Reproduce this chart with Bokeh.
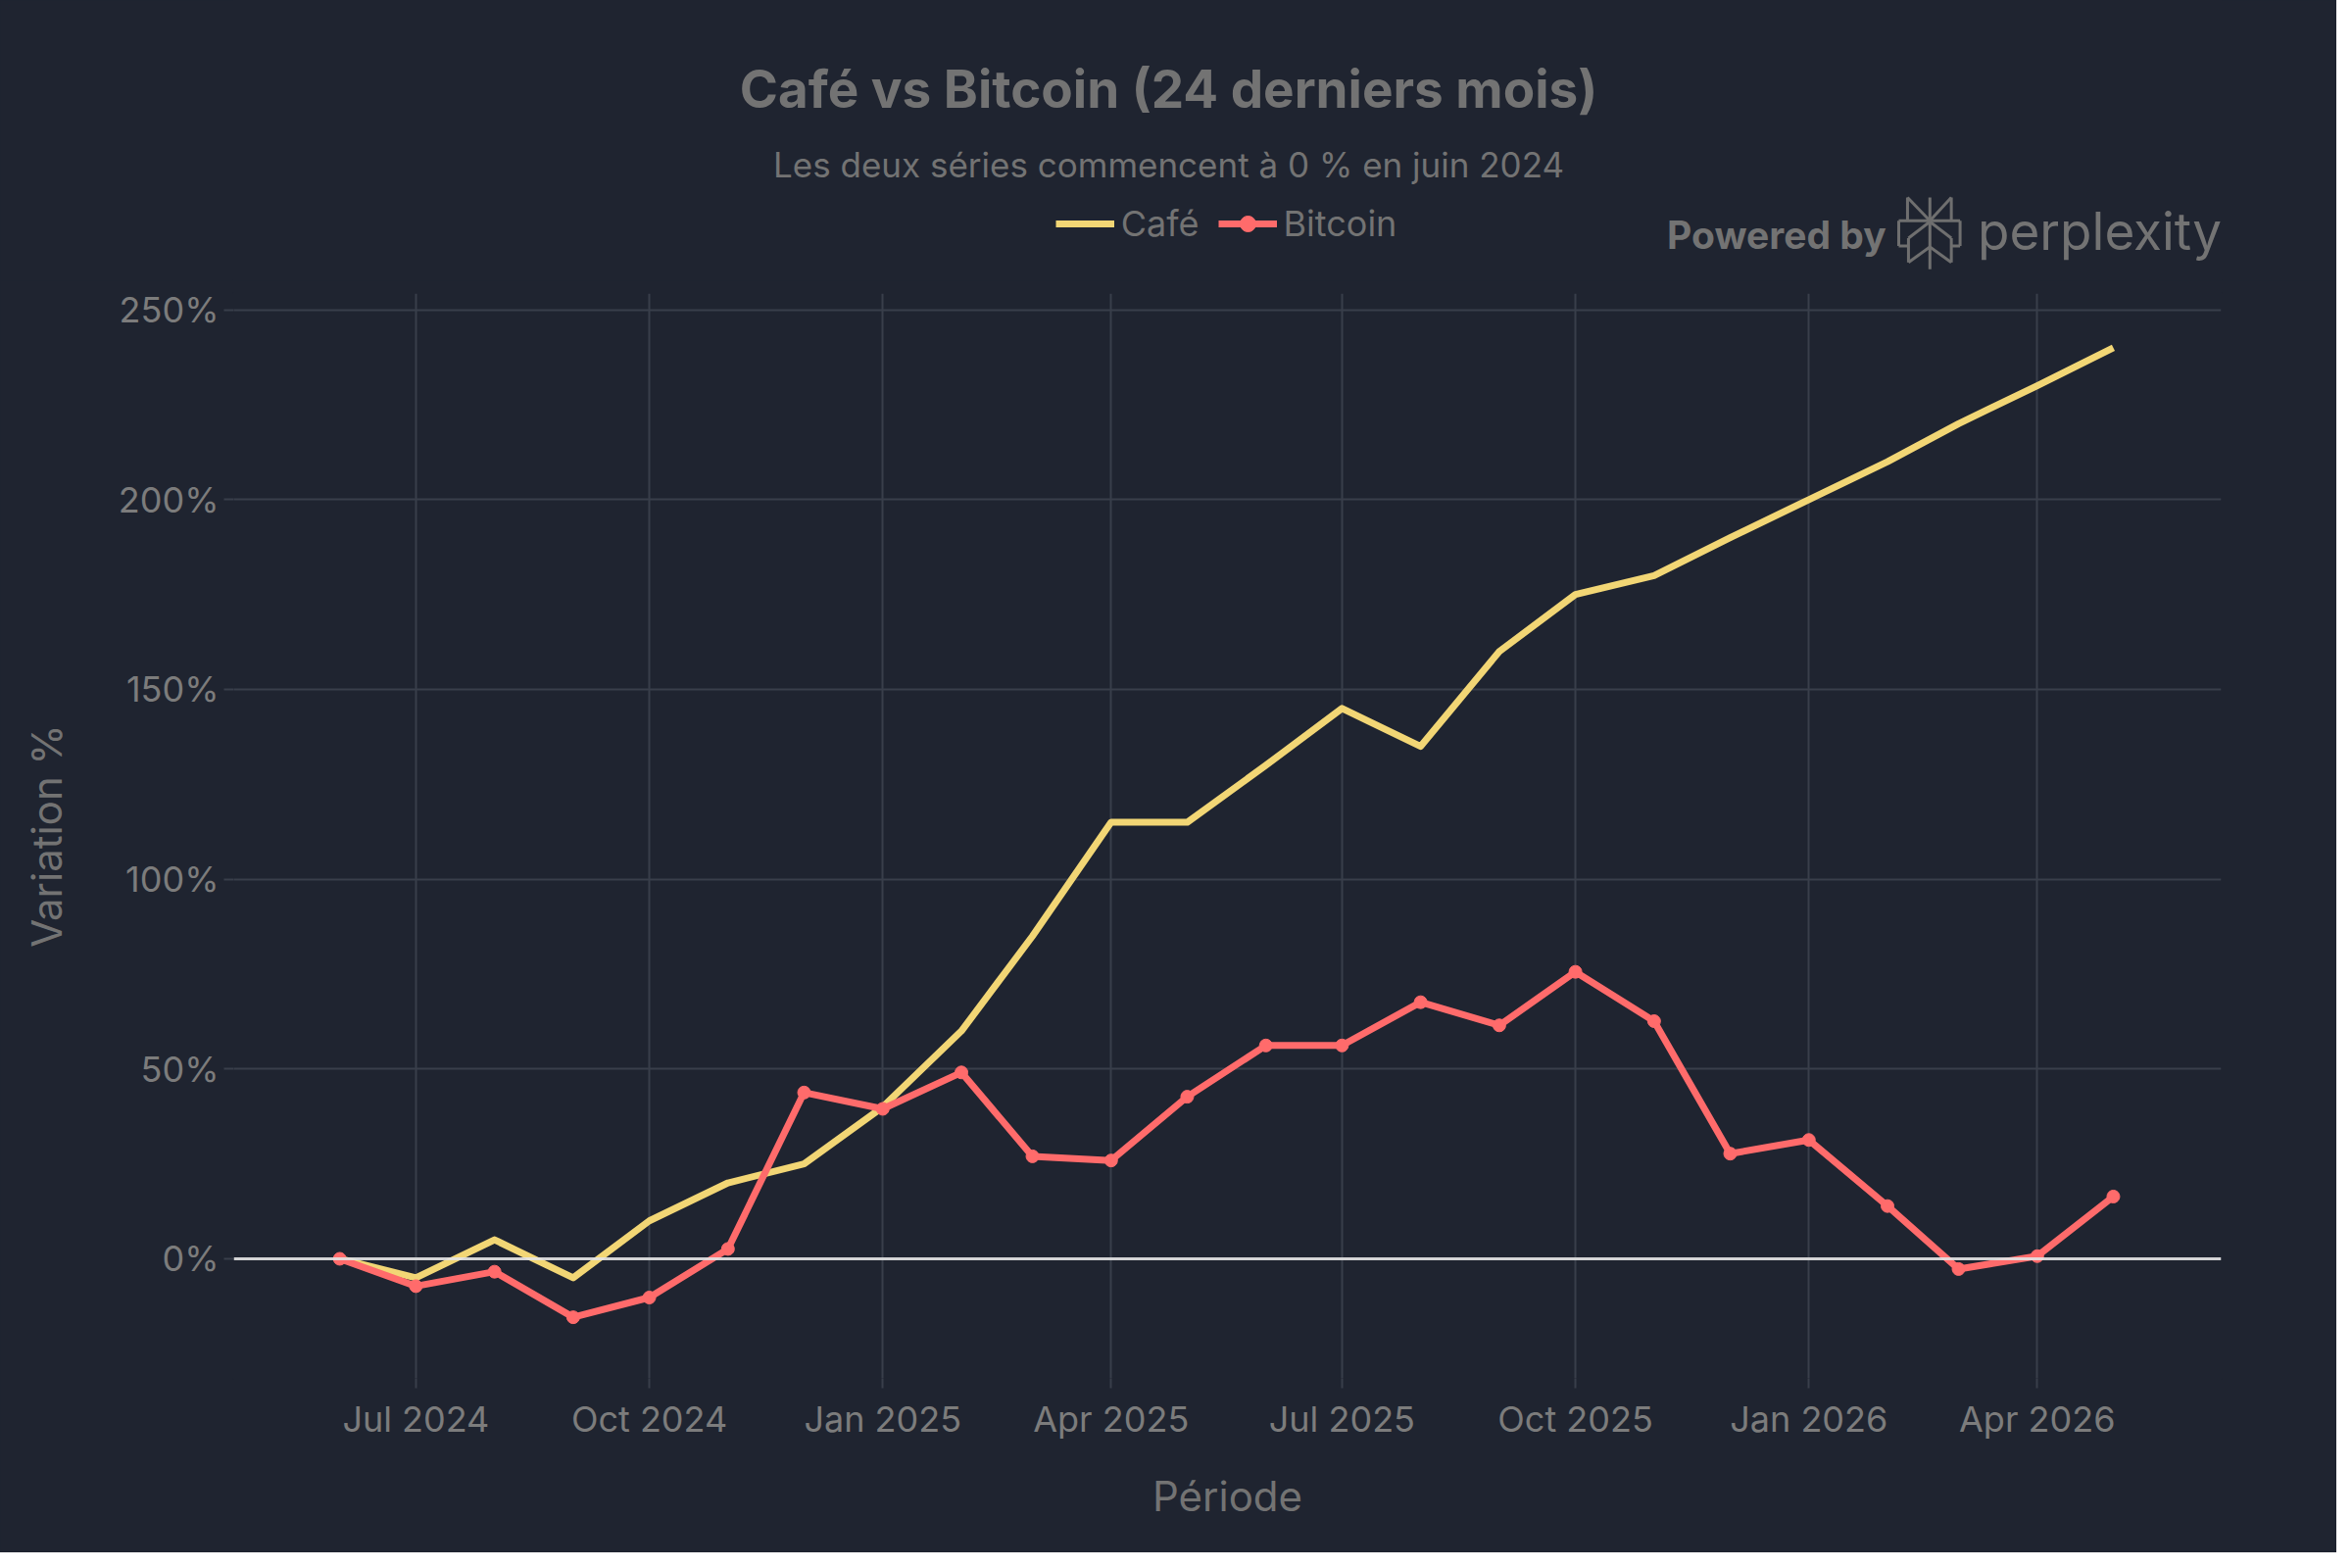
import pandas as pd
from bokeh.plotting import figure
from bokeh.layouts import column
from bokeh.models import (Range1d, FixedTicker, DatetimeTickFormatter, Span, Label,
                          Legend, LegendItem, ColumnDataSource)
from bokeh.embed import file_html
from bokeh.resources import INLINE

# ---------------- data ----------------
months = ["2024-06-01", "2024-07-01", "2024-08-01", "2024-09-01", "2024-10-01", "2024-11-01",
          "2024-12-01", "2025-01-01", "2025-02-01", "2025-03-01", "2025-04-01", "2025-05-01",
          "2025-06-01", "2025-07-01", "2025-08-01", "2025-09-01", "2025-10-01", "2025-11-01",
          "2025-12-01", "2026-01-01", "2026-02-01", "2026-03-01", "2026-04-01", "2026-05-01"]
cafe = [0, -5, 5, -5, 10, 20, 25, 40, 60, 85, 115, 115,
        130, 145, 135, 160, 175, 180, 190, 200, 210, 220, 230, 240]
bitcoin = [0, -7.2, -3.4, -15.4, -10.2, 2.6, 43.8, 39.5, 49.1, 27.0, 25.9, 42.7,
           56.2, 56.2, 67.6, 61.5, 75.6, 62.6, 27.7, 31.3, 13.9, -2.7, 0.7, 16.4]
series_names = ["Café", "Bitcoin"]
x_tick_dates = ["2024-07-01", "2024-10-01", "2025-01-01", "2025-04-01",
                "2025-07-01", "2025-10-01", "2026-01-01", "2026-04-01"]
x_tick_labels = ["Jul 2024", "Oct 2024", "Jan 2025", "Apr 2025",
                 "Jul 2025", "Oct 2025", "Jan 2026", "Apr 2026"]
y_ticks = [0, 50, 100, 150, 200, 250]
y_tick_labels = ["0%", "50%", "100%", "150%", "200%", "250%"]

title_text = "Café vs Bitcoin (24 derniers mois)"
subtitle_text = "Les deux séries commencent à 0 % en juin 2024"
brand_a = "Powered by"
brand_b = "perplexity"

# ---------------- style ----------------
BG = "#1f2430"
GRID = "#393e4a"
TXT = "#737373"
TICK = "#7c7c7c"
CAFE_C = "#f2d675"
BTC_C = "#ff6b6b"
FONT = "Inter"

W, H = 2384, 1584
SX, SY = W / 2400, H / 1600     # reference-pixel -> figure-pixel scale
HH = 286                        # header height
MH = H - HH                     # main figure height

left_b = round(240 * SX)
right_b = W - round(2281 * SX)
top_b = round(302 * SY) - HH
bot_b = MH - (round(1420 * SY) - HH)

dates = pd.to_datetime(months)
src = ColumnDataSource(dict(date=dates, cafe=cafe, bitcoin=bitcoin))

# ---------------- header (title, subtitle, legend, brand) ----------------
# header frame shares the main frame's left/right edges; data units = pixels
hdr = figure(width=W, height=HH, output_backend="svg", toolbar_location=None,
             x_range=Range1d(left_b, W - right_b), y_range=Range1d(0, HH),
             x_axis_location=None, y_axis_location=None,
             min_border_left=left_b, min_border_right=right_b,
             min_border_top=0, min_border_bottom=0,
             background_fill_color=BG, border_fill_color=BG,
             outline_line_color=BG, outline_line_width=3)
hdr.grid.visible = False


def hx(x):
    return x * SX


def hy(y):
    return HH - y * SY


def lab(text, x, y, size, style="normal", align="center", color=TXT):
    hdr.add_layout(Label(x=hx(x), y=hy(y), text=text, text_font=FONT,
                         text_font_size=f"{size}px", text_font_style=style,
                         text_align=align, text_baseline="middle", text_color=color))


lab(title_text, 1200, 91, 53, style="bold")
lab(subtitle_text, 1200, 169, 35)
lab(brand_a, 1712, 241, 39, style="bold", align="left")
lab(brand_b, 2031, 238, 53, align="left")

# perplexity icon (decoration, reference pixel space)
cx, T, B = 1982, 203, 277
segs = [((cx, T), (cx, B)),
        ((1959, T), (1959, 226)), ((2004, T), (2004, 226)),
        ((1959, T), (cx, 227)), ((2004, T), (cx, 227)),
        ((1950, 227), (2013, 227)),
        ((1950, 227), (1950, 253)), ((2013, 227), (2013, 253)),
        ((1950, 253), (1960, 253)), ((2013, 253), (2004, 253)),
        ((cx, 228), (1960, 245)), ((cx, 228), (2004, 245)),
        ((1960, 245), (1960, 270)), ((2004, 245), (2004, 270)),
        ((cx, 254), (1960, 270)), ((cx, 254), (2004, 270))]
hdr.segment(x0=[hx(a[0]) for a, b in segs], y0=[hy(a[1]) for a, b in segs],
            x1=[hx(b[0]) for a, b in segs], y1=[hy(b[1]) for a, b in segs],
            line_color="#6f6f6f", line_width=3)

# legend swatches: the real series, lying outside the header's pixel ranges
lg_cafe = hdr.line("date", "cafe", source=src, line_color=CAFE_C, line_width=7)
lg_btc = hdr.line("date", "bitcoin", source=src, line_color=BTC_C, line_width=7)
lg_btc_m = hdr.scatter("date", "bitcoin", source=src, size=13, fill_color=BTC_C,
                       line_color=BTC_C)
legend = Legend(items=[LegendItem(label=series_names[0], renderers=[lg_cafe]),
                       LegendItem(label=series_names[1], renderers=[lg_btc, lg_btc_m])],
                orientation="horizontal", location=(hx(1084) - left_b, HH - 253 * SY),
                background_fill_alpha=0, border_line_color=None, padding=0, margin=0,
                spacing=19, label_standoff=7, glyph_width=60, glyph_height=40,
                label_height=40, label_text_font=FONT, label_text_font_size="36px",
                label_text_color=TXT)
hdr.add_layout(legend)

# ---------------- main chart ----------------
p = figure(width=W, height=MH, x_axis_type="datetime", output_backend="svg",
           toolbar_location=None,
           x_range=Range1d(pd.Timestamp("2024-04-20 05:00"), pd.Timestamp("2026-06-12 12:00")),
           y_range=Range1d(-31.5, 254.3),
           min_border_left=left_b, min_border_right=right_b,
           min_border_top=top_b, min_border_bottom=bot_b,
           background_fill_color=BG, border_fill_color=BG,
           outline_line_color=BG, outline_line_width=3)

xt = [int(pd.Timestamp(d).value // 10**6) for d in x_tick_dates]
p.xaxis.ticker = FixedTicker(ticks=xt)
p.xaxis.formatter = DatetimeTickFormatter(months="%b %Y", days="%b %Y", years="%b %Y")
p.xaxis.major_label_overrides = {t: l for t, l in zip(xt, x_tick_labels)}
p.yaxis.ticker = FixedTicker(ticks=y_ticks)
p.yaxis.major_label_overrides = {t: l for t, l in zip(y_ticks, y_tick_labels)}

for ax in (p.xaxis[0], p.yaxis[0]):
    ax.axis_line_color = None
    ax.major_tick_line_color = GRID
    ax.major_tick_line_width = 2
    ax.major_tick_out = 10
    ax.major_tick_in = 0
    ax.minor_tick_line_color = None
    ax.major_label_text_font = FONT
    ax.major_label_text_font_size = "36px"
    ax.major_label_text_color = TICK
    ax.axis_label_text_font = FONT
    ax.axis_label_text_font_size = "42px"
    ax.axis_label_text_font_style = "normal"
    ax.axis_label_text_color = TXT

p.xaxis.axis_label = "Période"
p.xaxis.major_label_standoff = 9
p.xaxis.axis_label_standoff = 28
p.yaxis.axis_label = "Variation %"
p.yaxis.major_label_standoff = 5
p.yaxis.axis_label_standoff = 45

p.grid.grid_line_color = GRID
p.grid.grid_line_width = 2

r_cafe = p.line("date", "cafe", source=src, line_color=CAFE_C, line_width=7, line_join="round")
r_btc = p.line("date", "bitcoin", source=src, line_color=BTC_C, line_width=7, line_join="round")
r_btc_m = p.scatter("date", "bitcoin", source=src, size=13, fill_color=BTC_C, line_color=BTC_C)

p.add_layout(Span(location=0, dimension="width", line_color="#e6e6e6", line_width=3,
                  line_alpha=0.9))

page = column(hdr, p, spacing=0, styles={"background-color": BG})
open("out.html", "w").write(file_html(page, INLINE))
